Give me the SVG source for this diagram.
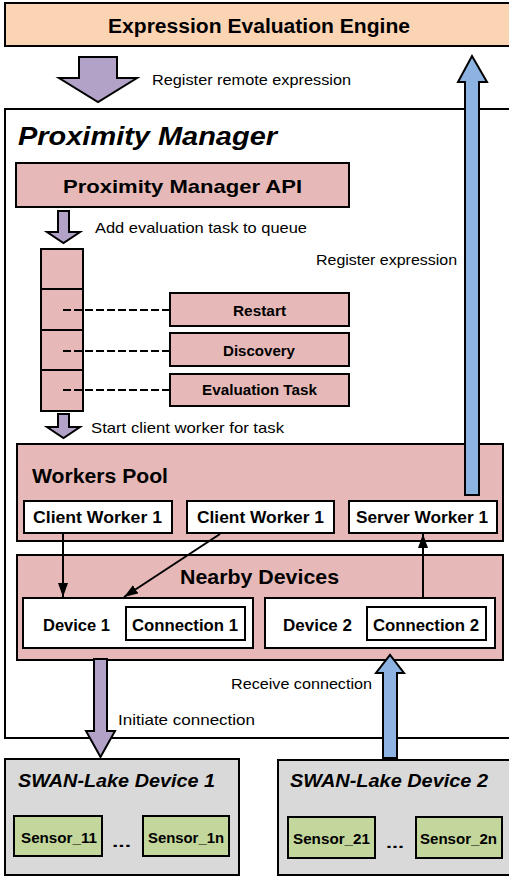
<svg xmlns="http://www.w3.org/2000/svg" width="509" height="877" viewBox="0 0 509 877">
<defs>
<style>
text { font-family: "Liberation Sans", Arial, sans-serif; fill: #000; }
.b { font-weight: bold; }
.bi { font-weight: bold; font-style: italic; }
.box { stroke: #000; stroke-width: 2; }
.peach { fill: #FBD4B4; }
.pink { fill: #E6B9B8; }
.white { fill: #FFFFFF; }
.gray { fill: #D9D9D9; }
.green { fill: #C3D69B; }
.purple { fill: #B3A2C7; stroke: #000; stroke-width: 2; stroke-linejoin: miter; }
.blue { fill: #8DB3E2; stroke: #000; stroke-width: 2; stroke-linejoin: miter; }
.dash { stroke: #000; stroke-width: 2; stroke-dasharray: 8 3; fill: none; }
.conn { stroke: #000; stroke-width: 2; fill: none; marker-end: url(#ah); }
</style>
<marker id="ah" markerUnits="userSpaceOnUse" markerWidth="14" markerHeight="10" refX="14" refY="5" orient="auto" viewBox="0 0 14 10">
<path d="M0,0 L14,5 L0,10 z" fill="#000"/>
</marker>
</defs>
<rect width="509" height="877" fill="#FFFFFF"/>

<g id="engine">
<rect class="box peach" x="5" y="3" width="512" height="43"/>
<text class="b" x="108" y="33" font-size="20" textLength="302" lengthAdjust="spacingAndGlyphs">Expression Evaluation Engine</text>
</g>

<g id="proximity-manager">
<rect class="box white" x="5" y="109" width="512" height="629"/>
<text class="bi" x="18" y="145" font-size="25" textLength="259" lengthAdjust="spacingAndGlyphs">Proximity Manager</text>
</g>

<g id="api">
<rect class="box pink" x="16" y="163" width="333" height="44"/>
<text class="b" x="63" y="193" font-size="19" textLength="239" lengthAdjust="spacingAndGlyphs">Proximity Manager API</text>
</g>

<g id="queue">
<rect class="box pink" x="41" y="249" width="42" height="40"/>
<rect class="box pink" x="41" y="289" width="42" height="41"/>
<rect class="box pink" x="41" y="330" width="42" height="40"/>
<rect class="box pink" x="41" y="370" width="42" height="41"/>
</g>

<g id="restart">
<rect class="box pink" x="170" y="293" width="179" height="33"/>
<text class="b" x="233" y="316" font-size="15" textLength="53" lengthAdjust="spacingAndGlyphs">Restart</text>
</g>
<g id="discovery">
<rect class="box pink" x="170" y="333" width="179" height="33"/>
<text class="b" x="223" y="356" font-size="15" textLength="72" lengthAdjust="spacingAndGlyphs">Discovery</text>
</g>
<g id="evaluation-task">
<rect class="box pink" x="170" y="374" width="179" height="32"/>
<text class="b" x="202" y="395" font-size="15" textLength="115" lengthAdjust="spacingAndGlyphs">Evaluation Task</text>
</g>

<g id="workers-pool">
<rect class="box pink" x="17" y="444" width="486" height="97"/>
<text class="b" x="32" y="483" font-size="20" textLength="136" lengthAdjust="spacingAndGlyphs">Workers Pool</text>
</g>
<g id="client-worker-a">
<rect class="box white" x="24" y="501" width="148" height="32"/>
<text class="b" x="33" y="523" font-size="16" textLength="129" lengthAdjust="spacingAndGlyphs">Client Worker 1</text>
</g>
<g id="client-worker-b">
<rect class="box white" x="187" y="501" width="147" height="32"/>
<text class="b" x="197" y="523" font-size="16" textLength="127" lengthAdjust="spacingAndGlyphs">Client Worker 1</text>
</g>
<g id="server-worker">
<rect class="box white" x="349" y="501" width="148" height="32"/>
<text class="b" x="356" y="523" font-size="16" textLength="132" lengthAdjust="spacingAndGlyphs">Server Worker 1</text>
</g>

<g id="nearby-devices">
<rect class="box pink" x="17" y="555" width="486" height="105"/>
<text class="b" x="180" y="584" font-size="21" textLength="159" lengthAdjust="spacingAndGlyphs">Nearby Devices</text>
</g>
<g id="device-1">
<rect class="box white" x="23" y="598" width="230" height="50"/>
<text class="b" x="43" y="631" font-size="16" textLength="67" lengthAdjust="spacingAndGlyphs">Device 1</text>
</g>
<g id="connection-1">
<rect class="box white" x="126" y="607" width="119" height="33"/>
<text class="b" x="132" y="631" font-size="16" textLength="106" lengthAdjust="spacingAndGlyphs">Connection 1</text>
</g>
<g id="device-2">
<rect class="box white" x="265" y="598" width="230" height="50"/>
<text class="b" x="283" y="631" font-size="16" textLength="69" lengthAdjust="spacingAndGlyphs">Device 2</text>
</g>
<g id="connection-2">
<rect class="box white" x="367" y="607" width="119" height="33"/>
<text class="b" x="373" y="631" font-size="16" textLength="106" lengthAdjust="spacingAndGlyphs">Connection 2</text>
</g>

<g id="swan-lake-1">
<rect class="box gray" x="5" y="759" width="234" height="116"/>
<text class="bi" x="18" y="787" font-size="18" textLength="197" lengthAdjust="spacingAndGlyphs">SWAN-Lake Device 1</text>
<text class="b" x="112" y="847" font-size="15" textLength="19" lengthAdjust="spacingAndGlyphs">...</text>
</g>
<g id="sensor-11">
<rect class="box green" x="14" y="816" width="88" height="40"/>
<text class="b" x="21" y="843" font-size="15" textLength="76" lengthAdjust="spacingAndGlyphs">Sensor_11</text>
</g>
<g id="sensor-1n">
<rect class="box green" x="143" y="816" width="86" height="40"/>
<text class="b" x="148" y="843" font-size="15" textLength="76" lengthAdjust="spacingAndGlyphs">Sensor_1n</text>
</g>

<g id="swan-lake-2">
<rect class="box gray" x="278" y="760" width="240" height="115"/>
<text class="bi" x="290" y="787" font-size="18" textLength="198" lengthAdjust="spacingAndGlyphs">SWAN-Lake Device 2</text>
<text class="b" x="386" y="848" font-size="15" textLength="18" lengthAdjust="spacingAndGlyphs">...</text>
</g>
<g id="sensor-21">
<rect class="box green" x="288" y="817" width="87" height="41"/>
<text class="b" x="293" y="844" font-size="15" textLength="77" lengthAdjust="spacingAndGlyphs">Sensor_21</text>
</g>
<g id="sensor-2n">
<rect class="box green" x="416" y="817" width="86" height="41"/>
<text class="b" x="420" y="844" font-size="15" textLength="77" lengthAdjust="spacingAndGlyphs">Sensor_2n</text>
</g>

<g id="connectors">
<line class="dash" x1="63" y1="310" x2="170" y2="310"/>
<line class="dash" x1="63" y1="351" x2="170" y2="351"/>
<line class="dash" x1="63" y1="390" x2="170" y2="390"/>
<line class="conn" x1="63" y1="533" x2="63" y2="597"/>
<line class="conn" x1="220" y1="534" x2="124" y2="597"/>
<line class="conn" x1="423" y1="598" x2="423" y2="534"/>

<polygon class="purple" points="79,57 117,57 117,78 137,78 98,102 59,78 79,78"/>
<text x="152" y="85" font-size="15" textLength="199" lengthAdjust="spacingAndGlyphs">Register remote expression</text>

<polygon class="purple" points="58,211 69,211 69,232 80,232 63.5,243 47,232 58,232"/>
<text x="95" y="233" font-size="15" textLength="212" lengthAdjust="spacingAndGlyphs">Add evaluation task to queue</text>

<polygon class="purple" points="58,414 69,414 69,427 80,427 63.5,438 47,427 58,427"/>
<text x="91" y="433" font-size="15" textLength="193" lengthAdjust="spacingAndGlyphs">Start client worker for task</text>

<polygon class="blue" points="465,495 479,495 479,82 487,82 472,56 458,82 465,82"/>
<text x="316" y="265" font-size="15" textLength="141" lengthAdjust="spacingAndGlyphs">Register expression</text>

<polygon class="purple" points="94,659 107,659 107,731 115,731 100.5,757 86,731 94,731"/>
<text x="118" y="725" font-size="15" textLength="137" lengthAdjust="spacingAndGlyphs">Initiate connection</text>

<polygon class="blue" points="383,758 397,758 397,673 404,673 390,655 376,673 383,673"/>
<text x="231" y="689" font-size="15" textLength="141" lengthAdjust="spacingAndGlyphs">Receive connection</text>
</g>
</svg>
